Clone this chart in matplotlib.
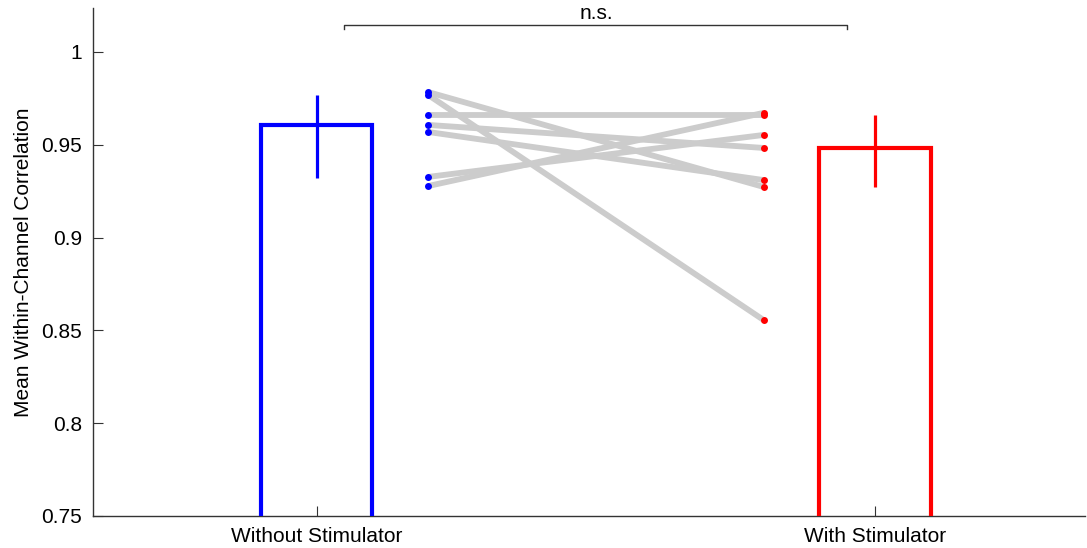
import matplotlib
matplotlib.use("Agg")
import matplotlib.pyplot as plt

plt.rcParams['font.family'] = ['Liberation Sans', 'DejaVu Sans']

categories = ["Without Stimulator", "With Stimulator"]
bar_values = [0.9607, 0.9483]
err_low = [0.9321, 0.9273]
err_high = [0.9768, 0.9660]
colors = ["#0000ff", "#ff0000"]

without_vals = [0.9784, 0.9768, 0.9661, 0.9607, 0.9569, 0.9327, 0.9278]
with_vals = [0.9273, 0.8556, 0.9661, 0.9483, 0.9310, 0.9553, 0.9672]

yticks = [0.75, 0.8, 0.85, 0.9, 0.95, 1.0]
ytick_labels = ["0.75", "0.8", "0.85", "0.9", "0.95", "1"]

FS = 15

fig = plt.figure(figsize=(10.87, 5.48), dpi=100)
ax = fig.add_axes([0.0856, 0.0584, 0.9124, 0.927])

xpos = [1, 2]
width = 0.2
base = 0.70
ax.bar(xpos, [v - base for v in bar_values], bottom=base, width=width,
       fill=False, edgecolor=colors, linewidth=3.0, zorder=3)
for x, lo, hi, c in zip(xpos, err_low, err_high, colors):
    ax.plot([x, x], [lo, hi], color=c, linewidth=2.3, solid_capstyle='butt', zorder=4)

# paired lines
for a, b in zip(without_vals, with_vals):
    ax.plot([1.2, 1.8], [a, b], color="#cccccc", linewidth=4.2, zorder=2,
            solid_capstyle='butt')
ax.plot([1.2] * len(without_vals), without_vals, 'o', color="#0000ff",
        markersize=5, zorder=5, markeredgewidth=0)
ax.plot([1.8] * len(with_vals), with_vals, 'o', color="#ff0000",
        markersize=5, zorder=5, markeredgewidth=0)

# significance bracket
yb = 1.0145
ax.plot([1.05, 1.05, 1.95, 1.95], [yb - 0.002, yb, yb, yb - 0.002],
        color="#333333", linewidth=1.0, clip_on=False)
ax.text(1.5, yb + 0.0012, "n.s.", ha='center', va='bottom', fontsize=FS)

ax.set_xlim(0.6, 2.375)
ax.set_ylim(0.75, 1.0237)
ax.set_xticks(xpos)
ax.set_xticklabels(categories, fontsize=FS)
ax.set_yticks(yticks)
ax.set_yticklabels(ytick_labels, fontsize=FS)
ax.set_ylabel("Mean Within-Channel Correlation", fontsize=FS, labelpad=6)

for s in ['top', 'right']:
    ax.spines[s].set_visible(False)
for s in ['left', 'bottom']:
    ax.spines[s].set_color("#333333")
    ax.spines[s].set_linewidth(1.0)
ax.tick_params(axis='both', direction='in', length=7, width=0.8, color="#333333")
ax.tick_params(axis='x', pad=8)
ax.tick_params(axis='y', pad=8)

fig.savefig("out.png", dpi=100)
